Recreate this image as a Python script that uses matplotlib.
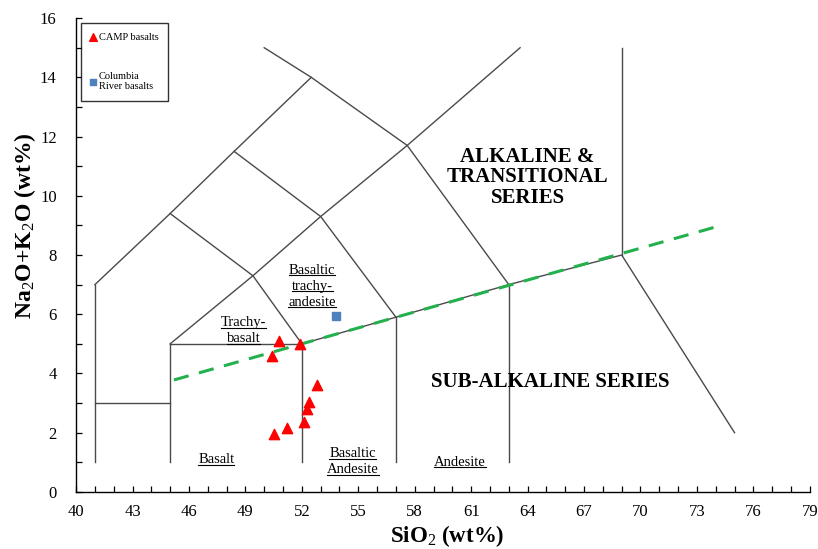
import numpy as np
import matplotlib
matplotlib.use("Agg")
import matplotlib.pyplot as plt
from matplotlib.lines import Line2D
from matplotlib.ticker import MultipleLocator

plt.rcParams['font.family'] = ['Liberation Serif', 'DejaVu Serif']
plt.rcParams['mathtext.fontset'] = 'custom'
plt.rcParams['mathtext.rm'] = 'Liberation Serif'
plt.rcParams['mathtext.it'] = 'Liberation Serif:italic'
plt.rcParams['mathtext.bf'] = 'Liberation Serif:bold'

# CAMP basalt analyses (SiO2, total alkalis)
camp_sio2 = [50.8, 51.9, 50.4, 52.8, 52.4, 52.3, 52.1, 51.2, 50.5]
camp_alk = [5.1, 5.0, 4.6, 3.6, 3.05, 2.8, 2.35, 2.15, 1.95]

# Columbia River basalt average
crb_sio2 = [53.8]
crb_alk = [5.95]

# TAS field boundaries (polylines)
tas_lines = [
    ([41, 41], [1, 7]),
    ([41, 45], [3, 3]),
    ([45, 45], [1, 5]),
    ([45, 52], [5, 5]),
    ([52, 52], [1, 5]),
    ([57, 57], [1, 5.9]),
    ([63, 63], [1, 7]),
    ([69, 69], [8, 15]),
    ([52, 57, 63, 69, 75], [5, 5.9, 7, 8, 2]),
    ([41, 45, 48.4, 52.5, 50], [7, 9.4, 11.5, 14, 15]),
    ([45, 49.4, 52], [9.4, 7.3, 5]),
    ([48.4, 53, 57], [11.5, 9.3, 5.9]),
    ([52.5, 57.6, 63], [14, 11.7, 7]),
    ([45, 49.4, 53, 57.6, 63.6], [5, 7.3, 9.3, 11.7, 15]),
]

# alkaline / sub-alkaline divide
divide_sio2 = [45.2, 74.4]
divide_alk = [3.78, 9.02]

# field names (centre x, centre y, lines)
field_labels = [
    (48.9, 5.45, ['Trachy-', 'basalt']),
    (52.55, 6.95, ['Basaltic', 'trachy-', 'andesite']),
    (47.45, 1.08, ['Basalt']),
    (54.7, 1.02, ['Basaltic', 'Andesite']),
    (60.4, 1.0, ['Andesite']),
]

x_ticks = list(range(40, 80, 3))

fig = plt.figure(figsize=(8.18, 5.49), dpi=100)
ax = fig.add_axes([0.093, 0.104, 0.897, 0.863])

for xs, ys in tas_lines:
    ax.plot(xs, ys, color='#4a4a4a', lw=1.0, zorder=1)

ax.plot(divide_sio2, divide_alk, color='#22b14c', lw=2.2, ls=(0, (5, 3.5)), zorder=2)

ax.scatter(camp_sio2, camp_alk, marker='^', s=55, color='red', zorder=3, label='CAMP basalts')
ax.scatter(crb_sio2, crb_alk, marker='s', s=30, color='#4f81bd', zorder=3, label='Columbia\nRiver basalts')

# underlined field names, one text per line
line_gap = 11.5
under_texts = []
for x, y, lines in field_labels:
    n = len(lines)
    for i, s in enumerate(lines):
        dy = ((n - 1) / 2 - i) * line_gap
        t = ax.annotate(s, (x, y), xytext=(0, dy), textcoords='offset points',
                        ha='center', va='center', fontsize=10.5)
        under_texts.append(t)

ax.text(64.0, 10.62, 'ALKALINE &\nTRANSITIONAL\nSERIES', ha='center', va='center',
        fontsize=15, fontweight='bold', linespacing=1.05)
ax.text(65.2, 3.7, 'SUB-ALKALINE SERIES', ha='center', va='center',
        fontsize=15, fontweight='bold')

ax.set_xlim(40, 79)
ax.set_ylim(0, 16)
ax.set_xticks(x_ticks)
ax.xaxis.set_minor_locator(MultipleLocator(1))
ax.yaxis.set_major_locator(MultipleLocator(2))
ax.yaxis.set_minor_locator(MultipleLocator(1))
ax.tick_params(which='both', direction='in', length=4, width=0.9, labelsize=12)
ax.tick_params(axis='x', pad=9)
ax.tick_params(axis='y', pad=14)
for s in ('top', 'right'):
    ax.spines[s].set_visible(False)
for s in ('left', 'bottom'):
    ax.spines[s].set_linewidth(1.0)

ax.set_xlabel(r'SiO$_2$ (wt%)', fontsize=16.5, fontweight='bold')
ax.set_ylabel(r'Na$_2$O+K$_2$O (wt%)', fontsize=17, fontweight='bold')
ax.xaxis.set_label_coords(0.506, -0.066)
ax.yaxis.set_label_coords(-0.052, 0.561)

leg = ax.legend(loc='upper left', bbox_to_anchor=(0.007, 0.99), fontsize=7.5,
                frameon=True, fancybox=False, edgecolor='black', handlelength=0.5,
                handletextpad=0.3, labelspacing=2.9, borderpad=0.9, markerscale=0.75,
                borderaxespad=0)
leg.get_frame().set_linewidth(1.0)

# draw underlines once text extents are known
fig.canvas.draw()
renderer = fig.canvas.get_renderer()
to_fig = fig.transFigure.inverted()
for t in under_texts:
    bb = t.get_window_extent(renderer)
    (x0, y0), (x1, _) = to_fig.transform([(bb.x0, bb.y0 + 1.5), (bb.x1, bb.y0 + 1.5)])
    fig.add_artist(Line2D([x0, x1], [y0, y0], color='black', lw=0.8))

fig.savefig('out.png', dpi=100)
